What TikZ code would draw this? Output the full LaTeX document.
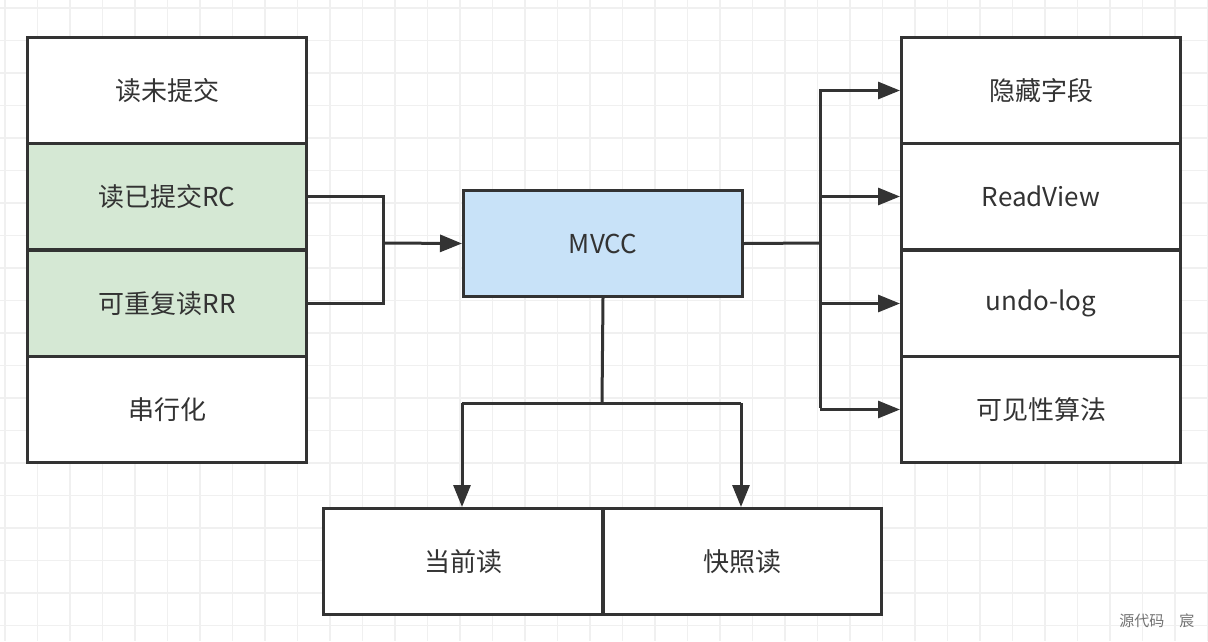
\documentclass[tikz,border=0pt]{standalone}
\usepackage{fontspec}
\setmainfont{Noto Sans CJK SC}
\usetikzlibrary{arrows.meta}
\definecolor{ln}{HTML}{333333}
\definecolor{gr}{HTML}{D5E8D4}
\definecolor{bl}{HTML}{C8E2F8}
\begin{document}
\begin{tikzpicture}[x=1pt,y=-1pt,
 box/.style={draw=ln,line width=3pt,minimum width=279pt,minimum height=106pt,anchor=north west,inner sep=0pt,text=ln,font=\fontsize{26}{30}\selectfont},
 con/.style={draw=ln,line width=3pt},
 arr/.style={con,-{Triangle[length=22pt,width=17pt]}}]
\fill[white] (0,0) rectangle (1208,641);
\useasboundingbox (0,0) rectangle (1208,641);
\foreach \i in {0,...,37} \draw[black!6,line width=1.2pt] (5+32.5*\i,0) -- (5+32.5*\i,641);
\foreach \i in {0,...,19} \draw[black!6,line width=1.2pt] (0,8+32.5*\i) -- (1208,8+32.5*\i);
\node[box,fill=white] (a1) at (26,36) {读未提交};
\node[box,fill=gr] (a2) at (26,142) {读已提交RC};
\node[box,fill=gr] (a3) at (26,249) {可重复读RR};
\node[box,fill=white] (a4) at (26,355) {串行化};
\node[box,fill=bl] (m) at (462,189) {MVCC};
\node[box,fill=white] (b1) at (900,36) {隐藏字段};
\node[box,fill=white] (b2) at (900,142) {ReadView};
\node[box,fill=white] (b3) at (900,249) {undo-log};
\node[box,fill=white] (b4) at (900,355) {可见性算法};
\node[box,fill=white] (c1) at (322,507) {当前读};
\node[box,fill=white,minimum width=278pt] (c2) at (602,507) {快照读};
\coordinate (j) at (383,243);
\coordinate (k) at (820,243);
\coordinate (h) at (602,403);
\draw[con] (a2.east) -| (j) |- (a3.east);
\draw[arr] (j) -- (m.west);
\draw[con] (m.east) -- (k);
\draw[con] (820,89) -- (820,408);
\foreach \b in {b1,b2,b3,b4} \draw[arr] (k|-\b.west) -- (\b.west);
\draw[con] (m.south) -- (h);
\draw[con] (462,403) -- (741,403);
\draw[arr] (462,403) -- (462,507);
\draw[arr] (741,403) -- (741,507);
\node[text=black!55,font=\fontsize{15}{17}\selectfont,anchor=east] (w) at (1198,621) {源代码\quad 宸};
\end{tikzpicture}
\end{document}
